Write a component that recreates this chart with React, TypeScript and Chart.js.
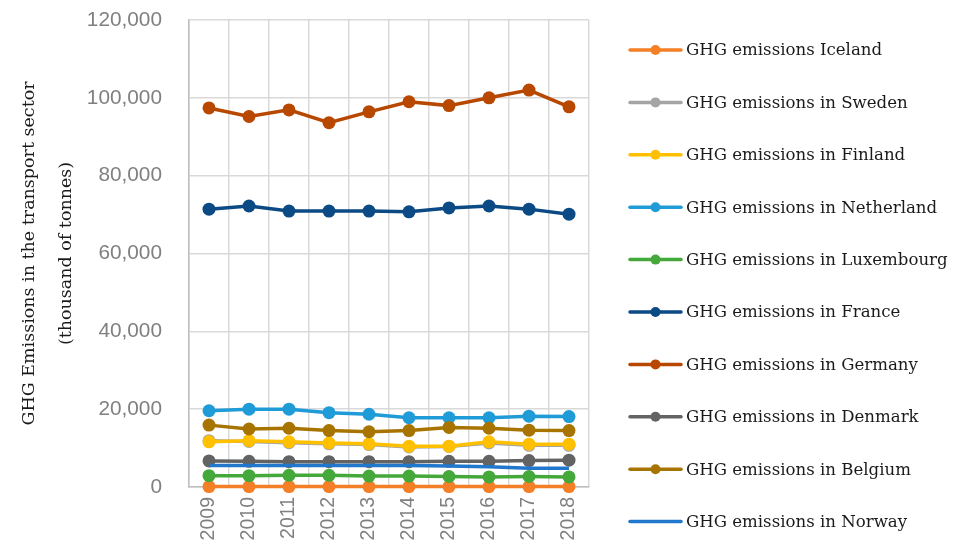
import React, { useEffect, useRef } from "react";
import { Chart, registerables } from "chart.js";

Chart.register(...registerables);

const years = ["2009", "2010", "2011", "2012", "2013", "2014", "2015", "2016", "2017", "2018"];

const iceland = [0.1, 0.1, 0.1, 0.1, 0.1, 0.1, 0.1, 0.1, 0.1, 0.1].map((v) => v * 1000);
const sweden = [11.9, 11.7, 11.4, 11.1, 10.9, 10.3, 10.4, 11.3, 10.7, 10.7].map((v) => v * 1000);
const finland = [11.6, 11.9, 11.6, 11.3, 11.1, 10.5, 10.5, 11.6, 11.0, 11.0].map((v) => v * 1000);
const netherland = [19.6, 20.0, 20.0, 19.1, 18.7, 17.8, 17.8, 17.8, 18.2, 18.1].map((v) => v * 1000);
const luxembourg = [2.9, 2.9, 3.0, 3.0, 2.8, 2.8, 2.7, 2.6, 2.7, 2.6].map((v) => v * 1000);
const france = [71.4, 72.2, 70.9, 70.9, 70.9, 70.7, 71.7, 72.2, 71.4, 70.1].map((v) => v * 1000);
const germany = [97.4, 95.2, 96.9, 93.6, 96.4, 99.0, 98.0, 100.0, 102.0, 97.7].map((v) => v * 1000);
const denmark = [6.7, 6.6, 6.5, 6.5, 6.5, 6.5, 6.6, 6.6, 6.8, 6.9].map((v) => v * 1000);
const belgium = [15.9, 14.9, 15.1, 14.5, 14.2, 14.5, 15.3, 15.1, 14.6, 14.5].map((v) => v * 1000);
const norway = [5.5, 5.5, 5.5, 5.5, 5.5, 5.5, 5.4, 5.2, 4.8, 4.8].map((v) => v * 1000);

const seriesLabels = [
  "GHG emissions Iceland",
  "GHG emissions in Sweden",
  "GHG emissions in Finland",
  "GHG emissions in Netherland",
  "GHG emissions in Luxembourg",
  "GHG emissions in France",
  "GHG emissions in Germany",
  "GHG emissions in Denmark",
  "GHG emissions in Belgium",
  "GHG emissions in Norway",
];
const seriesData = [iceland, sweden, finland, netherland, luxembourg, france, germany, denmark, belgium, norway];
const seriesColors = [
  "#F47F26",
  "#A5A5A5",
  "#FFC000",
  "#1F9BD7",
  "#44A83B",
  "#0B4A84",
  "#B84700",
  "#636363",
  "#A87400",
  "#2077CC",
];
const seriesMarkers = [true, true, true, true, true, true, true, true, true, false];

const yTicks = [0, 20000, 40000, 60000, 80000, 100000, 120000];
const yTitle = ["GHG Emissions in the transport sector", "(thousand of tonnes)"];

const legendPlugin = {
  id: "customLegend",
  afterDraw(chart: any) {
    const ctx = chart.ctx;
    ctx.save();
    chart.data.datasets.forEach((ds: any, i: number) => {
      const y = 50 + i * 52.4;
      ctx.strokeStyle = ds.borderColor;
      ctx.lineWidth = 3.5;
      ctx.lineCap = "round";
      ctx.beginPath();
      ctx.moveTo(630, y);
      ctx.lineTo(681, y);
      ctx.stroke();
      if (ds.pointRadius > 0) {
        ctx.fillStyle = ds.borderColor;
        ctx.beginPath();
        ctx.arc(655.5, y, 5, 0, Math.PI * 2);
        ctx.fill();
      }
      ctx.fillStyle = "#1a1a1a";
      ctx.font = "16.6px 'DejaVu Serif'";
      ctx.textBaseline = "middle";
      ctx.textAlign = "left";
      ctx.fillText(ds.label, 686, y + 1);
    });
    ctx.restore();
  },
};

export default function App() {
  const ref = useRef<HTMLCanvasElement | null>(null);
  useEffect(() => {
    document.body.style.margin = "0";
    const canvas = ref.current!;
    const chart = new Chart(canvas, {
      type: "line",
      data: {
        labels: years,
        datasets: seriesLabels.map((label, i) => ({
          label,
          data: seriesData[i],
          borderColor: seriesColors[i],
          backgroundColor: seriesColors[i],
          borderWidth: 3.5,
          pointRadius: seriesMarkers[i] ? 6.5 : 0,
          pointHoverRadius: seriesMarkers[i] ? 6.5 : 0,
          pointBorderWidth: 0,
          pointBackgroundColor: seriesColors[i],
          tension: 0,
          clip: false,
          order: 20 - i,
        })),
      },
      options: {
        responsive: false,
        animation: false,
        events: [],
        layout: { padding: { top: 20, right: 367, left: 0, bottom: 0 } },
        plugins: {
          legend: { display: false },
          tooltip: { enabled: false },
        },
        scales: {
          x: {
            offset: true,
            grid: {
              offset: true,
              color: "#D9D9D9",
              lineWidth: 1.5,
              drawTicks: true,
              tickLength: 10,
              tickColor: "rgba(0,0,0,0)",
            },
            border: { color: "#BFBFBF", width: 1.5 },
            ticks: {
              color: "#808080",
              font: { family: "'Liberation Sans'", size: 19.5 },
              maxRotation: 90,
              minRotation: 90,
              padding: 0,
            },
            afterFit: (s: any) => {
              s.height = 552 - 487;
            },
          },
          y: {
            min: 0,
            max: 120000,
            afterBuildTicks: (s: any) => {
              s.ticks = yTicks.map((v) => ({ value: v }));
            },
            grid: {
              color: "#D9D9D9",
              lineWidth: 1.5,
              drawTicks: true,
              tickLength: 27,
              tickColor: "rgba(0,0,0,0)",
            },
            border: { color: "#BFBFBF", width: 1.5 },
            ticks: {
              color: "#808080",
              font: { family: "'Liberation Sans'", size: 20.8 },
              padding: 0,
              callback: (v: any) => Number(v).toLocaleString("en-US"),
            },
            title: {
              display: true,
              text: yTitle,
              color: "#1a1a1a",
              font: { family: "'DejaVu Serif'", size: 17.5, lineHeight: 2.1 },
              padding: { top: 11.5, bottom: 0 },
            },
            afterFit: (s: any) => {
              s.width = 189;
            },
          },
        },
      },
      plugins: [legendPlugin],
    });
    return () => chart.destroy();
  }, []);
  return <canvas ref={ref} width={956} height={552} style={{ display: "block" }} />;
}
